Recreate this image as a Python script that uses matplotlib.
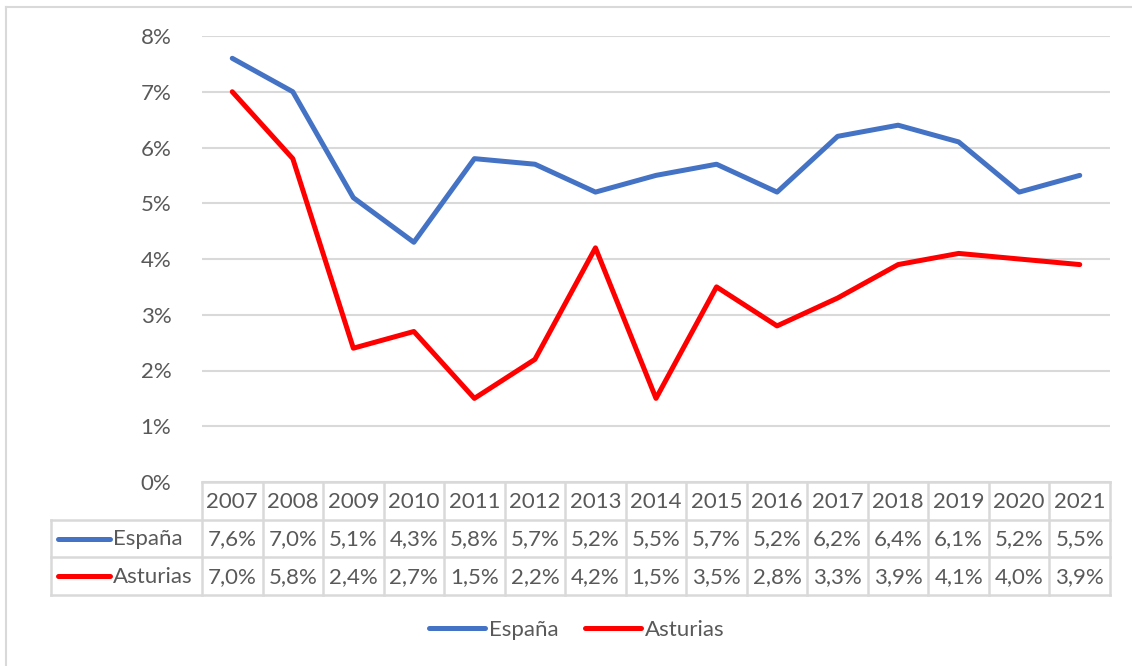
import matplotlib.pyplot as plt
from matplotlib.lines import Line2D

plt.rcParams['font.family'] = ['Lato', 'DejaVu Sans']

# Data
years = ['2007', '2008', '2009', '2010', '2011', '2012', '2013', '2014',
         '2015', '2016', '2017', '2018', '2019', '2020', '2021']
espana = [7.6, 7.0, 5.1, 4.3, 5.8, 5.7, 5.2, 5.5, 5.7, 5.2, 6.2, 6.4, 6.1, 5.2, 5.5]
asturias = [7.0, 5.8, 2.4, 2.7, 1.5, 2.2, 4.2, 1.5, 3.5, 2.8, 3.3, 3.9, 4.1, 4.0, 3.9]
series_names = ['España', 'Asturias']
colors = ['#4472C4', '#FF0000']

W, H = 1132, 666
fig = plt.figure(figsize=(W / 100, H / 100), dpi=100)
txt_color = '#595959'
grid_color = '#D9D9D9'
fs = 16

# plot area in pixels
x0, x1 = 202, 1110
y_top, y_bot = 36, 482
ax = fig.add_axes([x0 / W, 1 - y_bot / H, (x1 - x0) / W, (y_bot - y_top) / H])
n = len(years)
xs = list(range(n))
for vals, c, name in zip([espana, asturias], colors, series_names):
    ax.plot(xs, vals, color=c, lw=3.6, solid_joinstyle='round', solid_capstyle='round', label=name)
ax.set_xlim(-0.5, n - 0.5)
ax.set_ylim(0, 8)
ax.set_yticks(range(0, 9))
ax.set_yticklabels([f'{v}%' for v in range(0, 9)])
ax.grid(axis='y', color=grid_color, lw=1.5)
ax.set_axisbelow(True)
for s in ax.spines.values():
    s.set_visible(False)
ax.tick_params(axis='y', length=0, pad=22, labelsize=fs, labelcolor=txt_color)
ax.tick_params(axis='x', length=0, labelbottom=False)

# data table below the plot
tb_bot = 595
tax = fig.add_axes([x0 / W, 1 - tb_bot / H, (x1 - x0) / W, (tb_bot - y_bot) / H])
tax.set_xlim(-0.5, n - 0.5)
tax.set_ylim(3, 0)
tax.axis('off')
left = -0.5 - (x0 - 51) / ((x1 - x0) / n)
lk = dict(color=grid_color, lw=1.8, clip_on=False)
# header row
tax.plot([-0.5, n - 0.5], [0, 0], **lk)
for i in range(n + 1):
    tax.plot([i - 0.5, i - 0.5], [0, 3], **lk)
tax.plot([left, n - 0.5], [1, 1], **lk)
tax.plot([left, n - 0.5], [2, 2], **lk)
tax.plot([left, n - 0.5], [3, 3], **lk)
tax.plot([left, left], [1, 3], **lk)
for i, y in enumerate(years):
    tax.text(i, 0.52, y, ha='center', va='center', fontsize=fs, color=txt_color)
for r, (vals, c, name) in enumerate(zip([espana, asturias], colors, series_names)):
    yy = 1.52 + r
    for i, v in enumerate(vals):
        tax.text(i, yy, f'{v:.1f}%'.replace('.', ','), ha='center', va='center',
                 fontsize=fs, color=txt_color)
    tax.plot([left + 0.12, left + 0.98], [yy - 0.02, yy - 0.02], color=c, lw=3.6,
             solid_capstyle='round', clip_on=False)
    tax.text(left + 1.03, yy, name, ha='left', va='center', fontsize=fs, color=txt_color)

# legend
handles = [Line2D([], [], color=c, lw=3.6, solid_capstyle='round') for c in colors]
fig.legend(handles, series_names, loc='center', bbox_to_anchor=(577 / W, 1 - 630 / H),
           ncol=2, frameon=False, fontsize=fs, labelcolor=txt_color,
           handlelength=2.5, handletextpad=0.2, columnspacing=1.2)

# outer chart border (left and top)
fig.add_artist(Line2D([6 / W, 6 / W], [0, 1 - 7 / H], color=grid_color, lw=1.5))
fig.add_artist(Line2D([6 / W, 1], [1 - 7 / H, 1 - 7 / H], color=grid_color, lw=1.5))

fig.savefig('out.png', dpi=100, facecolor='white')
